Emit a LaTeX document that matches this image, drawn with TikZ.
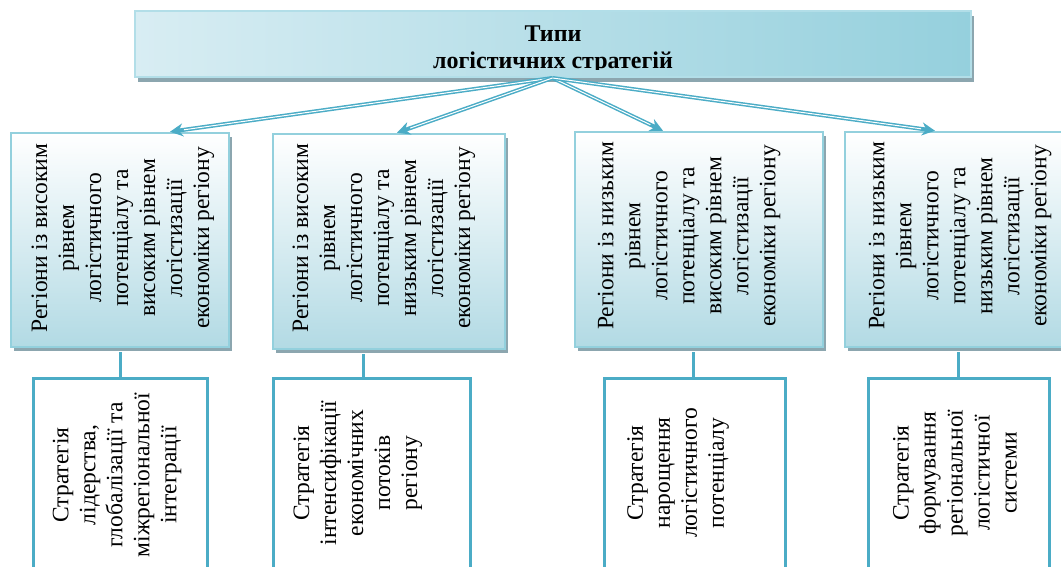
\documentclass[tikz,border=0pt]{standalone}
\usepackage{fontspec}
\setmainfont{Liberation Serif}
\usetikzlibrary{arrows.meta,shadows}
\definecolor{accent}{HTML}{4BACC6}
\definecolor{lborder}{HTML}{93D0DD}
\definecolor{tborder}{HTML}{B2DEE8}
\definecolor{shadowc}{HTML}{8CA6AF}
\definecolor{ltop}{HTML}{FFFFFF}
\definecolor{lbot}{HTML}{B2DAE4}
\definecolor{tleft}{HTML}{D8EDF3}
\definecolor{tright}{HTML}{95D0DD}
\tikzset{
  topbox/.style={rectangle, draw=tborder, line width=2pt, left color=tleft, right color=tright,
    drop shadow={shadow xshift=3pt, shadow yshift=-5pt, fill=shadowc, opacity=1}},
  regbox/.style={rectangle, draw=lborder, line width=2.5pt, top color=ltop, bottom color=lbot,
    drop shadow={shadow xshift=3pt, shadow yshift=-4pt, fill=shadowc, opacity=1}},
  stratbox/.style={rectangle, draw=accent, line width=3pt, fill=white},
  vtext/.style={rotate=90, align=center, font=\fontsize{23.5}{27}\selectfont, inner sep=0pt},
  conn/.style={draw=accent, line width=4pt, -{Stealth[length=13pt,width=13pt]}},
  connin/.style={draw=white, line width=1pt, shorten >=14pt},
  vline/.style={draw=accent, line width=3pt},
}
\begin{document}
\begin{tikzpicture}[x=1pt,y=-1pt]
\useasboundingbox (0,0) rectangle (1061,567);
% top box
\node[topbox, minimum width=836pt, minimum height=66pt] (top) at (552.5,44) {};
\begin{scope}
\clip (130,0) rectangle (980,69.5);
\node[align=center, font=\fontsize{24}{27}\selectfont\bfseries, inner sep=0pt, anchor=base] (title) at (553,69) {Типи\\логістичних стратегій};
\end{scope}
% level 2 boxes
\node[regbox, minimum width=218pt, minimum height=214pt] (b1) at (120,240) {};
\node[regbox, minimum width=232pt, minimum height=215pt] (b2) at (389,241.5) {};
\node[regbox, minimum width=248pt, minimum height=215pt] (b3) at (699,239.5) {};
\node[regbox, minimum width=230pt, minimum height=215pt] (b4) at (960,239.5) {};
\node[vtext] (t1) at (123,238) {Регіони із високим\\рівнем\\логістичного\\потенціалу та\\високим рівнем\\логістизації\\економіки регіону};
\node[vtext] (t2) at (384,238) {Регіони із високим\\рівнем\\логістичного\\потенціалу та\\низьким рівнем\\логістизації\\економіки регіону};
\node[vtext] (t3) at (689,236) {Регіони із низьким\\рівнем\\логістичного\\потенціалу та\\високим рівнем\\логістизації\\економіки регіону};
\node[vtext] (t4) at (960,236) {Регіони із низьким\\рівнем\\логістичного\\потенціалу та\\низьким рівнем\\логістизації\\економіки регіону};
% arrows
\coordinate (src) at (top.south);
\foreach \b/\dx in {b1/50, b2/8, b3/-36, b4/-25}{
  \draw[conn] (src) -- ([xshift=\dx pt]\b.north);
  \draw[connin] (src) -- ([xshift=\dx pt]\b.north);
}
% strategy boxes
\node[stratbox, minimum width=174pt, minimum height=197pt] (c1) at (120,476.5) {};
\node[stratbox, minimum width=197pt, minimum height=197pt] (c2) at (371.5,476.5) {};
\node[stratbox, minimum width=181pt, minimum height=197pt] (c3) at (694.5,476.5) {};
\node[stratbox, minimum width=181pt, minimum height=197pt] (c4) at (958.5,476.5) {};
\node[vtext] (s1) at (117,475) {Стратегія\\лідерства,\\глобалізації та\\міжрегіональної\\інтеграції};
\node[vtext] (s2) at (358,473) {Стратегія\\інтенсифікації\\економічних\\потоків\\регіону};
\node[vtext] (s3) at (678,473) {Стратегія\\нарощення\\логістичного\\потенціалу};
\node[vtext] (s4) at (955,473) {Стратегія\\формування\\регіональної\\логістичної\\системи};
% vertical connectors
\draw[vline] ([xshift=0pt,yshift=-4pt]b1.south) -- (b1.south |- c1.north);
\draw[vline] ([xshift=-26pt,yshift=-4pt]b2.south) -- ([xshift=-26pt]b2.south |- c2.north);
\draw[vline] ([xshift=-6pt,yshift=-4pt]b3.south) -- ([xshift=-6pt]b3.south |- c3.north);
\draw[vline] ([xshift=-2pt,yshift=-4pt]b4.south) -- ([xshift=-2pt]b4.south |- c4.north);
\end{tikzpicture}
\end{document}
